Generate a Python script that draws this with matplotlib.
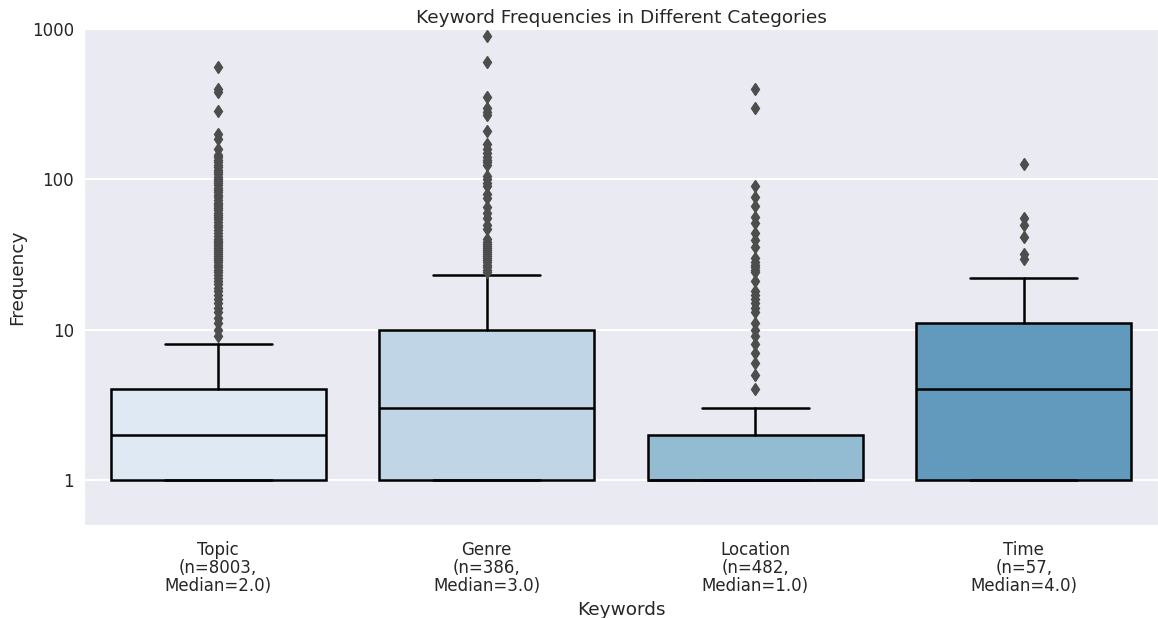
import matplotlib
matplotlib.use("Agg")
import matplotlib.pyplot as plt
import matplotlib.ticker as mticker
import seaborn as sns

# categories and box stats
cats = ["Topic", "Genre", "Location", "Time"]
counts = [8003, 386, 482, 57]
medians = [2.0, 3.0, 1.0, 4.0]
q1 = [1, 1, 1, 1]
q3 = [4, 10, 2, 11]
whislo = [1, 1, 1, 1]
whishi = [8, 23, 3, 22]

# outliers (estimated)
topic_fl = [9, 10, 11, 12, 13, 14, 15, 16, 17, 18, 19, 20, 21, 22, 23, 24, 25,
            26, 27, 28, 29, 30, 31, 32, 33, 34, 35, 36, 37, 38, 39, 40, 42, 44,
            46, 48, 50, 52, 54, 56, 58, 60, 62, 64, 66, 68, 70, 73, 76, 79, 82,
            85, 88, 91, 94, 97, 100, 104, 108, 112, 116, 120, 125, 130, 135,
            140, 145, 160, 185, 200, 283, 380, 400, 560]
genre_fl = [24, 25, 26, 27, 28, 29, 30, 31, 32, 33, 34, 35, 36, 37, 38, 40, 47,
            50, 55, 60, 65, 75, 80, 90, 95, 100, 105, 125, 130, 135, 140, 150,
            160, 172, 211, 266, 280, 297, 355, 608, 900]
location_fl = [4, 5, 6, 7, 8, 9, 10, 11, 13, 14, 15, 16, 17, 18, 21, 24, 25, 26,
               27, 28, 30, 35.6, 39.5, 44, 51, 56, 66, 76, 90, 297, 400]
time_fl = [29.4, 32, 41, 50, 55, 126]
fliers = [topic_fl, genre_fl, location_fl, time_fl]

sns.set_style("darkgrid")
plt.rcParams["font.family"] = ["DejaVu Sans"]

stats = []
for i in range(len(cats)):
    stats.append(dict(med=medians[i], q1=q1[i], q3=q3[i], whislo=whislo[i],
                      whishi=whishi[i], fliers=fliers[i]))

colors = [sns.desaturate(c, 0.75) for c in sns.color_palette("Blues")[:4]]

fig = plt.figure(figsize=(11.58, 6.18), dpi=100)
ax = fig.add_axes([0.0725, 0.1505, 0.9275, 0.8025])

bp = ax.bxp(stats, positions=range(len(cats)), widths=0.8, patch_artist=True,
            boxprops=dict(edgecolor="black", linewidth=1.8),
            medianprops=dict(color="black", linewidth=1.8),
            whiskerprops=dict(color="black", linewidth=1.8),
            capprops=dict(color="black", linewidth=1.8),
            flierprops=dict(marker="d", markerfacecolor="#4d4d4d",
                            markeredgecolor="#4d4d4d", markersize=6))
for patch, c in zip(bp["boxes"], colors):
    patch.set_facecolor(c)

for cap in bp["caps"]:
    x = cap.get_xdata()
    mid = (x[0] + x[1]) / 2
    cap.set_xdata([mid - 0.2, mid + 0.2])

ax.set_yscale("log")
ax.set_ylim(0.5, 1000)
ax.set_xlim(-0.5, 3.5)
ax.yaxis.set_major_locator(mticker.FixedLocator([1, 10, 100, 1000]))
ax.yaxis.set_major_formatter(mticker.FuncFormatter(lambda v, p: "%d" % v))
ax.yaxis.set_minor_locator(mticker.NullLocator())
ax.xaxis.grid(False)
ax.yaxis.grid(True, linewidth=1.5)

fs = 13.3
labels = ["%s\n(n=%d,\nMedian=%.1f)" % (c, n, m) for c, n, m in zip(cats, counts, medians)]
ax.set_xticks(range(len(cats)))
ax.set_xticklabels(labels, fontsize=12, color="#262626", linespacing=1.0)
ax.tick_params(axis="x", pad=8)
ax.tick_params(axis="y", labelsize=12, labelcolor="#262626")
ax.set_xlabel("Keywords", fontsize=fs, color="#262626", labelpad=4)
ax.set_ylabel("Frequency", fontsize=fs, color="#262626")
ax.set_title("Keyword Frequencies in Different Categories", fontsize=fs,
             color="#262626", pad=4)

fig.savefig("out.png", dpi=100)
